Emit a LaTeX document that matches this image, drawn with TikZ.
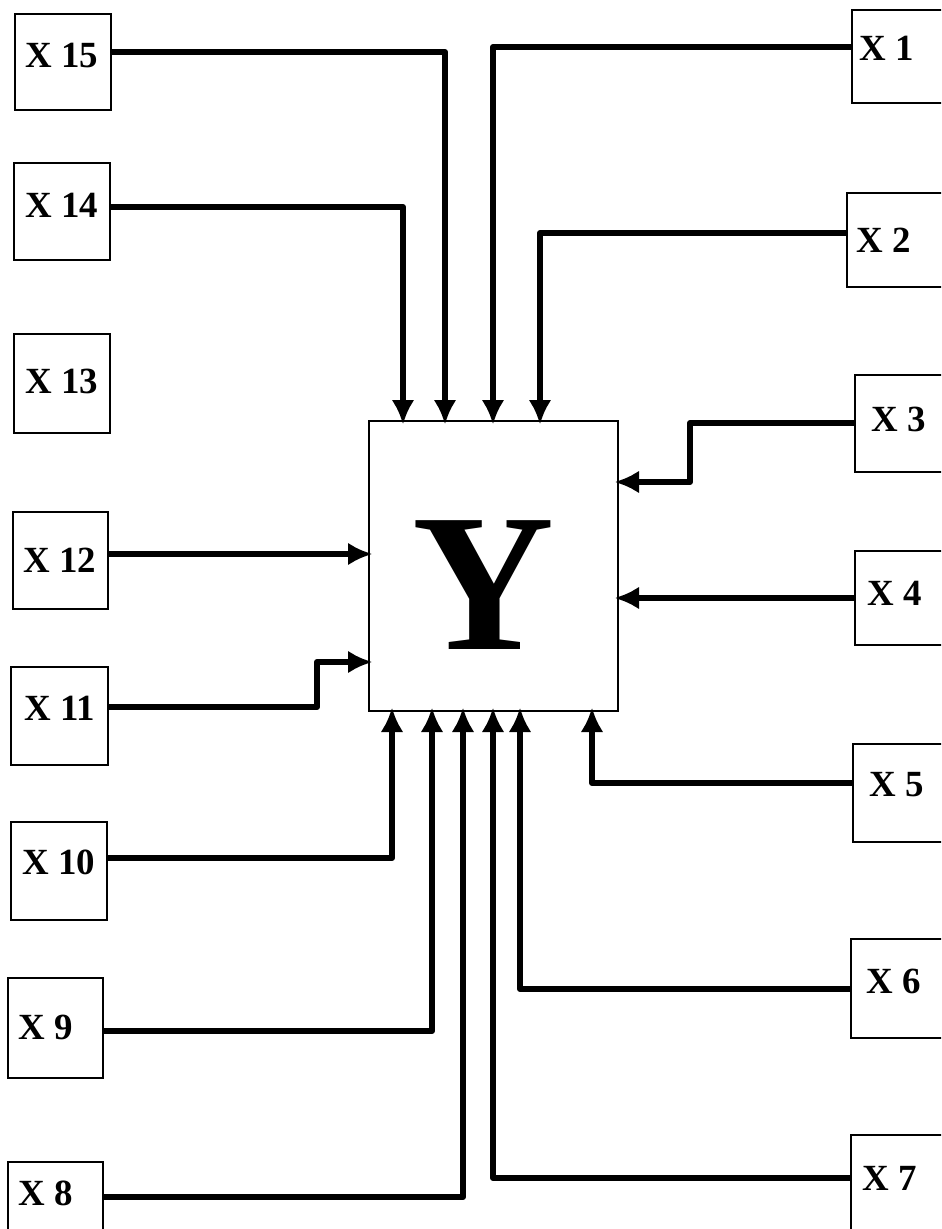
\documentclass[tikz,border=0pt]{standalone}
\usepackage{fontspec}
\setmainfont{Liberation Serif}
\usetikzlibrary{arrows.meta,fit,calc}
\tikzset{
  box/.style={draw, line width=0.9pt, inner sep=0pt},
  lab/.style={font=\fontsize{21}{25}\selectfont\bfseries, inner sep=0pt},
  rlab/.style={lab, anchor=west},
  conn/.style={line width=3.5pt, line join=round, shorten >=-2.5pt, -{Latex[length=14pt,width=13pt]}},
}
\begin{document}
\begin{tikzpicture}[x=0.02cm,y=-0.02cm]
\useasboundingbox (0,0) rectangle (941,1229);
\clip (0,0) rectangle (941,1229);
% central box
\node[box, fit={(369,421) (618,711)}] (y) {};
\node[font=\fontsize{112}{120}\selectfont\bfseries, inner sep=0pt] (ylab) at (484,585) {Y};
% left column
\node[box, fit={(15,14) (111,110)}] (b15) {};
\node[lab] (t15) at (62,56) {X 15};
\node[box, fit={(14,163) (110,260)}] (b14) {};
\node[lab] (t14) at (62,205) {X 14};
\node[box, fit={(14,334) (110,433)}] (b13) {};
\node[lab] (t13) at (62,381) {X 13};
\node[box, fit={(13,512) (108,609)}] (b12) {};
\node[lab] (t12) at (60,560) {X 12};
\node[box, fit={(11,667) (108,765)}] (b11) {};
\node[lab] (t11) at (60,708) {X 11};
\node[box, fit={(11,822) (107,920)}] (b10) {};
\node[lab] (t10) at (59,862) {X 10};
\node[box, fit={(8,978) (103,1078)}] (b9) {};
\node[lab, anchor=west] (t9) at (18,1027) {X 9};
\node[box, fit={(8,1162) (103,1260)}] (b8) {};
\node[lab, anchor=west] (t8) at (18,1193) {X 8};
% right column
\node[box, fit={(852,10) (970,103)}] (b1) {};
\node[rlab] (t1) at (859,48) {X 1};
\node[box, fit={(847,193) (970,287)}] (b2) {};
\node[rlab] (t2) at (856,240) {X 2};
\node[box, fit={(855,375) (970,472)}] (b3) {};
\node[rlab] (t3) at (871,419) {X 3};
\node[box, fit={(855,551) (970,645)}] (b4) {};
\node[rlab] (t4) at (867,593) {X 4};
\node[box, fit={(853,744) (970,842)}] (b5) {};
\node[rlab] (t5) at (869,785) {X 5};
\node[box, fit={(851,939) (970,1038)}] (b6) {};
\node[rlab] (t6) at (866,981) {X 6};
\node[box, fit={(851,1135) (970,1260)}] (b7) {};
\node[rlab] (t7) at (862,1178) {X 7};
% connectors, top side
\draw[conn] (b15.east |- 0,52) -| (445,0 |- y.north);
\draw[conn] (b14.east |- 0,207) -| (403,0 |- y.north);
\draw[conn] (b1.west |- 0,47) -| (493,0 |- y.north);
\draw[conn] (b2.west |- 0,233) -| (540,0 |- y.north);
% right side
\draw[conn] (b3.west |- 0,423) -- (690,423) -- (690,482) -- (y.east |- 0,482);
\draw[conn] (b4.west |- 0,598) -- (y.east |- 0,598);
% bottom side
\draw[conn] (b5.west |- 0,783) -| (592,0 |- y.south);
\draw[conn] (b6.west |- 0,989) -| (520,0 |- y.south);
\draw[conn] (b7.west |- 0,1178) -| (493,0 |- y.south);
\draw[conn] (b8.east |- 0,1197) -| (463,0 |- y.south);
\draw[conn] (b9.east |- 0,1031) -| (432,0 |- y.south);
\draw[conn] (b10.east |- 0,858) -| (392,0 |- y.south);
% left side
\draw[conn] (b11.east |- 0,707) -- (317,707) -- (317,662) -- (y.west |- 0,662);
\draw[conn] (b12.east |- 0,554) -- (y.west |- 0,554);
\end{tikzpicture}
\end{document}
